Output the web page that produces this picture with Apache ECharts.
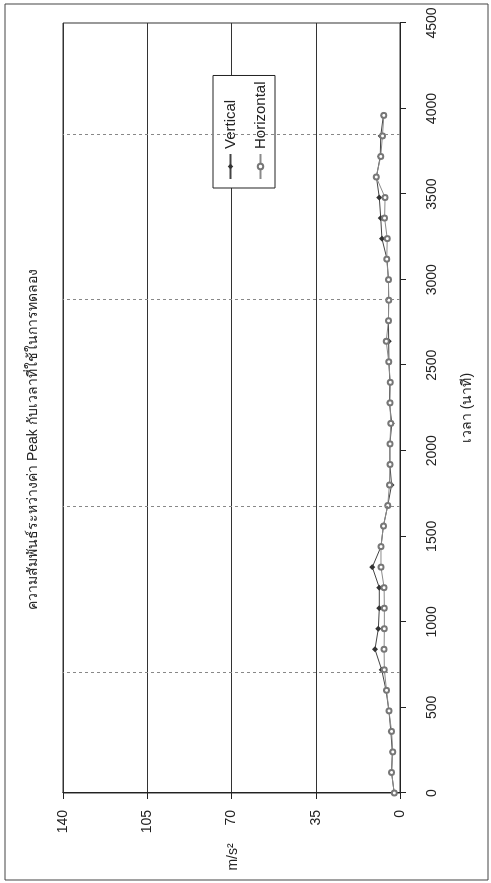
<!DOCTYPE html>
<html>
<head>
<meta charset="utf-8">
<script src="https://cdn.jsdelivr.net/npm/echarts@6/dist/echarts.min.js"></script>
<style>
  html, body { margin: 0; padding: 0; background: #fff; overflow: hidden; }
  body { width: 491px; height: 883px; position: relative; }
  /* the chart is laid out landscape and turned a quarter turn to stand upright */
  #chart {
    position: absolute; left: 0; top: 0;
    width: 883px; height: 491px;
    transform-origin: 0 0;
    transform: translate(0, 883px) rotate(-90deg);
  }
</style>
</head>
<body>
<div id="chart"></div>
<script>
// elapsed time of each reading (seconds)
const times = [0, 120, 240, 360, 480, 600, 720, 840, 960, 1080, 1200, 1320, 1440, 1560, 1680, 1800, 1920,
  2040, 2160, 2280, 2400, 2520, 2640, 2760, 2880, 3000, 3120, 3240, 3360, 3480, 3600, 3720, 3840, 3960];
// peak acceleration, m/s²
const verticalPeak = [2.4, 3.5, 3.2, 3.8, 4.6, 5.8, 7.6, 10.4, 9.0, 8.6, 8.6, 11.5, 7.9, 6.9, 5.1, 3.5, 4.2,
  4.2, 3.4, 4.4, 4.2, 4.6, 4.7, 4.8, 4.7, 4.8, 5.4, 7.5, 8.0, 8.6, 9.8, 8.2, 8.0, 6.9];
const horizontalPeak = [2.4, 3.5, 3.0, 3.5, 4.6, 5.6, 6.5, 6.6, 6.5, 6.5, 6.6, 7.9, 7.9, 6.9, 5.1, 4.4, 4.2,
  4.2, 3.8, 4.2, 4.0, 4.7, 5.7, 4.8, 4.7, 4.8, 5.5, 5.3, 6.4, 6.2, 9.9, 8.0, 7.3, 6.7];
// reference times marked with dotted lines
const markerTimes = [700, 1670, 2880, 3845];
const seriesNames = ['Vertical', 'Horizontal'];
const chartTitle = 'ความสัมพันธ์ระหว่างค่า Peak กับเวลาที่ใช้ในการทดลอง';
const timeAxisName = 'เวลา (นาที)';
const valueAxisName = 'm/s²';

const FONT = "'Liberation Sans', Arial, 'Noto Sans', sans-serif";
const INK = '#222';
const plain = v => String(v);

const chart = echarts.init(document.getElementById('chart'));
chart.setOption({
  animation: false,
  backgroundColor: '#fff',
  textStyle: { fontFamily: FONT },
  title: {
    text: chartTitle,
    left: 273, top: 26, padding: 0,
    textStyle: { fontSize: 14, fontWeight: 'normal', color: INK, fontFamily: FONT }
  },
  legend: {
    data: seriesNames,
    orient: 'vertical',
    left: 695, top: 213,
    itemWidth: 25, itemHeight: 7, itemGap: 15,
    padding: [10, 6, 7, 8],
    borderColor: INK, borderWidth: 1,
    backgroundColor: '#fff',
    textStyle: { fontSize: 15, color: INK, fontFamily: FONT }
  },
  grid: {
    left: 90, right: 23, top: 63, bottom: 91,
    show: true, borderColor: '#333', borderWidth: 1, backgroundColor: 'transparent'
  },
  xAxis: {
    type: 'value', min: 0, max: 4500, interval: 500,
    name: timeAxisName, nameLocation: 'middle', nameGap: 60,
    nameTextStyle: { fontSize: 14, color: INK, fontFamily: FONT },
    axisLine: { show: true, lineStyle: { color: INK, width: 1 } },
    axisTick: { show: true, length: 6, lineStyle: { color: INK } },
    axisLabel: { margin: 25, fontSize: 14, color: INK, fontFamily: FONT, formatter: plain },
    splitLine: { show: false }
  },
  yAxis: {
    type: 'value', min: 0, max: 140, interval: 35,
    axisLine: { show: true, lineStyle: { color: INK, width: 1 } },
    axisTick: { show: true, length: 6, lineStyle: { color: INK } },
    axisLabel: { margin: 17, fontSize: 14, color: INK, fontFamily: FONT, formatter: plain },
    splitLine: { show: true, lineStyle: { color: '#333', width: 1 } }
  },
  graphic: [
    {
      type: 'rect', silent: true,
      shape: { x: 3, y: 5, width: 876, height: 483 },
      style: { fill: 'none', stroke: '#444', lineWidth: 1 }
    },
    {
      type: 'text', silent: true, x: 26, y: 233,
      style: { text: valueAxisName, fontSize: 14, fill: INK, fontFamily: FONT, align: 'center', verticalAlign: 'middle' }
    }
  ],
  series: [
    {
      name: seriesNames[0], type: 'line',
      data: times.map((t, i) => [t, verticalPeak[i]]),
      symbol: 'diamond', symbolSize: 6,
      itemStyle: { color: '#333' },
      lineStyle: { color: '#444', width: 1 },
      z: 3,
      markLine: {
        silent: true, symbol: ['none', 'none'],
        label: { show: false },
        lineStyle: { color: '#888', type: [3, 3], width: 1 },
        data: markerTimes.map(t => ({ xAxis: t }))
      }
    },
    {
      name: seriesNames[1], type: 'line',
      data: times.map((t, i) => [t, horizontalPeak[i]]),
      symbol: 'emptyCircle', symbolSize: 5,
      itemStyle: { color: '#777', borderColor: '#777', borderWidth: 1 },
      lineStyle: { color: '#8a8a8a', width: 1 },
      z: 4
    }
  ]
});
</script>
</body>
</html>
